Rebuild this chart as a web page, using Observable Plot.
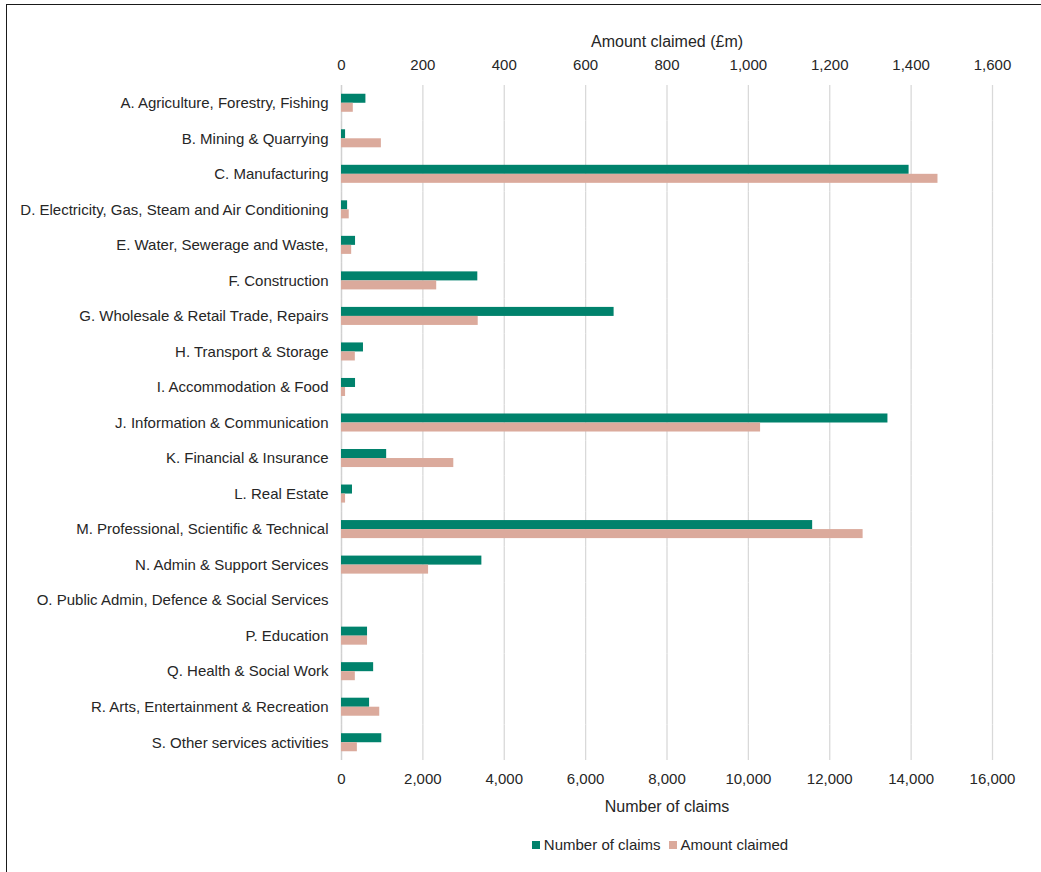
<!DOCTYPE html>
<html>
<head>
<meta charset="utf-8">
<script src="https://cdn.jsdelivr.net/npm/d3@7"></script>
<script src="https://cdn.jsdelivr.net/npm/@observablehq/plot@0.6"></script>
<style>
  html, body { margin: 0; padding: 0; background: #fff; }
  #wrap { position: relative; width: 1041px; height: 872px; overflow: hidden; font-family: "Liberation Sans Narrow", "Arial Narrow", "Liberation Sans", sans-serif; color: #262626; }
  #frame { position: absolute; left: 6px; top: 4px; right: -10px; bottom: -10px; border-left: 1.5px solid #1a1a1a; border-top: 1.5px solid #1a1a1a; }
  #chart { position: absolute; left: 0; top: 0; }
  #legend { position: absolute; top: 836px; left: 0; width: 1041px; display: flex; justify-content: center; gap: 8px; font-size: 15px; padding-left: 279px; box-sizing: border-box; }
  #legend span.sw { display: inline-block; width: 8px; height: 8px; margin-right: 4px; vertical-align: 1px; }
</style>
</head>
<body>
<div id="wrap">
  <div id="frame"></div>
  <div id="chart"></div>
  <div id="legend"></div>
</div>
<script>
const categories = [
  "A. Agriculture, Forestry, Fishing",
  "B. Mining & Quarrying",
  "C. Manufacturing",
  "D. Electricity, Gas, Steam and Air Conditioning",
  "E. Water, Sewerage and Waste,",
  "F. Construction",
  "G. Wholesale & Retail Trade, Repairs",
  "H. Transport & Storage",
  "I. Accommodation & Food",
  "J. Information & Communication",
  "K. Financial & Insurance",
  "L. Real Estate",
  "M. Professional, Scientific & Technical",
  "N. Admin & Support Services",
  "O. Public Admin, Defence & Social Services",
  "P. Education",
  "Q. Health & Social Work",
  "R. Arts, Entertainment & Recreation",
  "S. Other services activities"
];
const numberOfClaims = [600, 100, 13950, 150, 345, 3350, 6700, 540, 345, 13430, 1110, 270, 11580, 3450, 0, 640, 790, 690, 990];
const amountClaimed = [29, 98, 1466, 19, 25, 234, 336, 34, 10, 1030, 276, 10, 1282, 214, 0, 64, 34, 94, 39];
const seriesNames = ["Number of claims", "Amount claimed"];
const seriesColors = ["#00826C", "#DBAA9C"];
const claimTicks = [0, 2000, 4000, 6000, 8000, 10000, 12000, 14000, 16000];
const amountTicks = [0, 200, 400, 600, 800, 1000, 1200, 1400, 1600];
const topTitle = "Amount claimed (£m)";
const bottomTitle = "Number of claims";

// amount axis shares the pixel range: 1,600 £m aligns with 16,000 claims
const ratio = 10;
const rows = [];
categories.forEach((c, i) => {
  rows.push({category: c, series: seriesNames[0], value: numberOfClaims[i]});
  rows.push({category: c, series: seriesNames[1], value: amountClaimed[i] * ratio});
});

const fmt = d3.format(",");
const font = "\"Liberation Sans Narrow\", \"Arial Narrow\", \"Liberation Sans\", sans-serif";

const chart = Plot.plot({
  width: 1041,
  height: 820,
  marginLeft: 341,
  marginRight: 49,
  marginTop: 85,
  marginBottom: 60,
  style: {fontFamily: font, fontSize: "15px", color: "#262626", background: "transparent"},
  x: {domain: [0, 16000]},
  y: {domain: seriesNames, axis: null, paddingInner: 0, paddingOuter: 0.97, round: false},
  fy: {domain: categories, padding: 0, round: false},
  color: {domain: seriesNames, range: seriesColors},
  marks: [
    Plot.gridX(claimTicks, {stroke: "#d9d9d9", strokeOpacity: 1, strokeWidth: 1.3}),
    Plot.ruleX([0], {stroke: "#d0d0d0", strokeWidth: 1.3}),
    Plot.barX(rows, {fy: "category", y: "series", x: "value", fill: "series"}),
    Plot.axisFy({anchor: "left", tickSize: 0, tickPadding: 13, label: null, fontSize: 15}),
    Plot.axisX({anchor: "bottom", ticks: claimTicks, tickFormat: fmt, tickSize: 0, tickPadding: 13, label: null, fontSize: 15}),
    Plot.axisX({anchor: "top", ticks: amountTicks.map(d => d * ratio), tickFormat: d => fmt(d / ratio), tickSize: 0, tickPadding: 16, label: null, fontSize: 15}),
    Plot.text([topTitle], {frameAnchor: "top", dy: -50, facet: "super", fontSize: 16, fill: "#262626"}),
    Plot.text([bottomTitle], {frameAnchor: "bottom", dy: 51, facet: "super", fontSize: 16, fill: "#262626"})
  ]
});
document.getElementById("chart").appendChild(chart);

const legend = document.getElementById("legend");
seriesNames.forEach((s, i) => {
  const item = document.createElement("div");
  item.innerHTML = `<span class="sw" style="background:${seriesColors[i]}"></span>${s}`;
  legend.appendChild(item);
});
</script>
</body>
</html>
